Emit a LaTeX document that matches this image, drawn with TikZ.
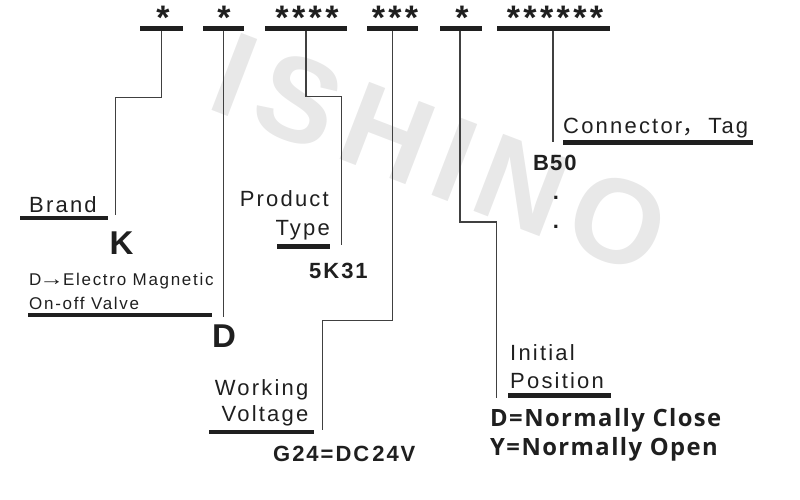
\documentclass[tikz,border=0pt]{standalone}
\usepackage{graphicx}
\usepackage{fontspec}
\setmainfont{Liberation Sans}
\newfontfamily\rg{Liberation Sans}[LetterSpace=10]
\newfontfamily\bd{Liberation Sans}[LetterSpace=9]
\newfontfamily\st{Liberation Sans}[LetterSpace=10]
\newfontfamily\nt{Open Sans}[LetterSpace=6]
\newfontfamily\cjk{Noto Sans CJK SC}
\newfontfamily\arr{Liberation Sans}
\newfontfamily\wm{Liberation Sans}[LetterSpace=10]
\tikzset{
  bar/.style={fill=black!88, draw=none, inner sep=0pt, minimum height=5pt},
  uline/.style={line width=4.5pt, black!88},
  conn/.style={line width=1.3pt, black!75},
  lab/.style={inner sep=0pt, text=black!88, font=\rg\fontsize{22}{26}\selectfont},
  smalllab/.style={inner sep=0pt, text=black!88, font=\rg\fontsize{17}{20}\selectfont},
  boldlab/.style={inner sep=0pt, text=black!88, font=\bd\bfseries\fontsize{22}{26}\selectfont},
  biglab/.style={inner sep=0pt, text=black!88, font=\bd\bfseries\fontsize{33}{38}\selectfont},
  optlab/.style={inner sep=0pt, text=black!88, font=\nt\bfseries\fontsize{23.8}{28}\selectfont},
  star/.style={inner sep=0pt, text=black!88, anchor=base, font=\st\bfseries\fontsize{34}{38}\selectfont},
}
\begin{document}
\begin{tikzpicture}[x=1pt,y=-1pt]
\useasboundingbox (0,0) rectangle (800,499);
% watermark
\node[inner sep=0pt, text=black!9, rotate=-21, font=\wm\bfseries\fontsize{120}{126}\selectfont] (wmark) at (440,154) {ISHINO};
% top bars
\node[bar, minimum width=43pt] (b1) at (161.5,28) {};
\node[bar, minimum width=41pt] (b2) at (223.5,28) {};
\node[bar, minimum width=82pt] (b3) at (306,28) {};
\node[bar, minimum width=51pt] (b4) at (392.5,28) {};
\node[bar, minimum width=42pt] (b5) at (461,28) {};
\node[bar, minimum width=113pt] (b6) at (553.5,28) {};
% asterisks
\node[star] (s1) at (163,29.5) {*};
\node[star] (s2) at (224,29.5) {*};
\node[star] (s3) at (307,29.5) {****};
\node[star] (s4) at (395,29.5) {***};
\node[star] (s5) at (462,29.5) {*};
\node[star] (s6) at (555,29.5) {******};
% underlines
\draw[uline] (20,218) -- (108,218);
\draw[uline] (28,315) -- (212,315);
\draw[uline] (277,246.7) -- (330,246.7);
\draw[uline] (209,432) -- (314,432);
\draw[uline] (508,395.7) -- (611,395.7);
\draw[uline] (563,142.3) -- (753,142.3);
% labels
\node[lab, anchor=base west] (brand) at (29,212) {Brand};
\node[biglab, anchor=base west] (kval) at (109.5,254) {K};
\node[smalllab, anchor=base west] (elec) at (29,285) {D{\arr\fontsize{17}{20}\selectfont\kern-2pt\scalebox{1.45}[1.15]{→}\kern-1pt}Electro Magnetic};
\node[smalllab, anchor=base west] (onoff) at (29,309) {On-off Valve};
\node[biglab, anchor=base west] (dval) at (212,347) {D};
\node[lab, anchor=base east] (prod) at (329,206.7) {Product};
\node[lab, anchor=base east] (ptype) at (330,235) {Type};
\node[boldlab, anchor=base west] (pval) at (309,278) {5K\kern2pt31};
\node[lab, anchor=base east] (work) at (308.5,395) {Working};
\node[lab, anchor=base east] (volt) at (308.5,421.7) {Voltage};
\node[boldlab, anchor=base west] (vval) at (273,461.7) {G24=DC\kern3pt24V};
\node[lab, anchor=base west] (init) at (510,360) {Initial};
\node[lab, anchor=base west] (posn) at (510,388) {Position};
\node[optlab, anchor=base west] (nc) at (490,426.7) {D=Normally Close};
\node[optlab, anchor=base west] (no) at (490,455) {Y=Normally Open};
\node[lab, anchor=base west] (conn) at (563,133.3) {Connector{\cjk ，}\kern4pt Tag};
\node[boldlab, anchor=base west] (bval) at (533,170) {B\kern1pt50};
\node[boldlab, anchor=base] (dot1) at (556,199.5) {.};
\node[boldlab, anchor=base] (dot2) at (556,228.5) {.};
% connector end points and bends
\coordinate (k1) at (115.3,97.3);
\coordinate (e1) at (115.3,215);
\coordinate (e2) at (223.3,317);
\coordinate (k3) at (341.7,96.7);
\coordinate (e3) at (341.7,245);
\coordinate (k4) at (322.3,320.7);
\coordinate (e4) at (322.3,430);
\coordinate (k5) at (496.7,222);
\coordinate (e5) at (496.7,398);
\coordinate (e6) at (553,142);
% connectors
\draw[conn] (b1.south -| 161.7,0) |- (k1) -- (e1);
\draw[conn] (b2.south -| e2) -- (e2);
\draw[conn] (b3.south) |- (k3) -- (e3);
\draw[conn] (b4.south) |- (k4) -- (e4);
\draw[conn] (b5.south -| 460,0) |- (k5) -- (e5);
\draw[conn] (b6.south -| e6) -- (e6);
\end{tikzpicture}
\end{document}
